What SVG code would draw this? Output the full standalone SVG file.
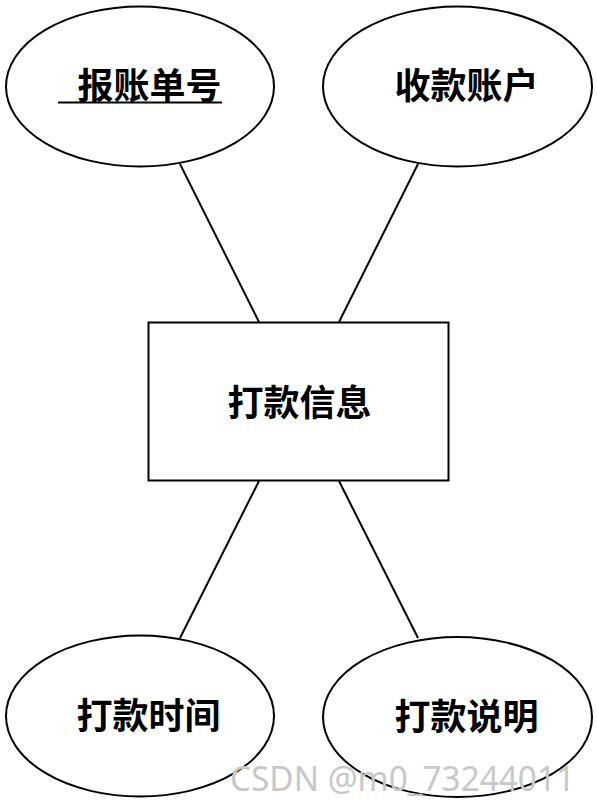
<svg xmlns="http://www.w3.org/2000/svg" width="597" height="802" viewBox="0 0 597 802">
<style>
.shape{fill:#fff;stroke:#000;stroke-width:2}
.conn line{stroke:#000;stroke-width:2}
.lbl{font-family:"Noto Sans CJK SC","Noto Sans",sans-serif;font-size:36px;font-weight:bold;fill:#000;text-anchor:middle}
.wm{font-family:"Noto Sans","DejaVu Sans",sans-serif;font-size:34px;fill:#c8c8c8}
</style>
<rect width="597" height="802" fill="#fff"/>
<g id="connectors" class="conn">
<line x1="180" y1="164" x2="259" y2="322"/>
<line x1="418" y1="164" x2="339" y2="322"/>
<line x1="259" y1="481" x2="180" y2="638"/>
<line x1="339" y1="481" x2="418" y2="638"/>
</g>
<g id="node-baozhangdanhao">
<ellipse class="shape" cx="140" cy="86.5" rx="134" ry="80"/>
<text class="lbl" x="149.5" y="98.5">报账单号</text>
<line x1="58" y1="102.5" x2="222" y2="102.5" stroke="#000" stroke-width="2"/>
</g>
<g id="node-shoukuanzhanghu">
<ellipse class="shape" cx="457.5" cy="86.5" rx="134.5" ry="80"/>
<text class="lbl" x="466.5" y="98.5">收款账户</text>
</g>
<g id="node-dakuanxinxi">
<rect class="shape" x="148.5" y="322.5" width="300" height="158"/>
<text class="lbl" x="299.5" y="416">打款信息</text>
</g>
<g id="node-dakuanshijian">
<ellipse class="shape" cx="140" cy="716" rx="134" ry="80.5"/>
<text class="lbl" x="148.5" y="729">打款时间</text>
</g>
<g id="node-dakuanshuoming">
<ellipse class="shape" cx="457.5" cy="717" rx="134.5" ry="80"/>
<text class="lbl" x="466.5" y="729.5">打款说明</text>
</g>
<text class="wm" x="230" y="791" textLength="345" lengthAdjust="spacingAndGlyphs">CSDN @m0_73244011</text>
</svg>
